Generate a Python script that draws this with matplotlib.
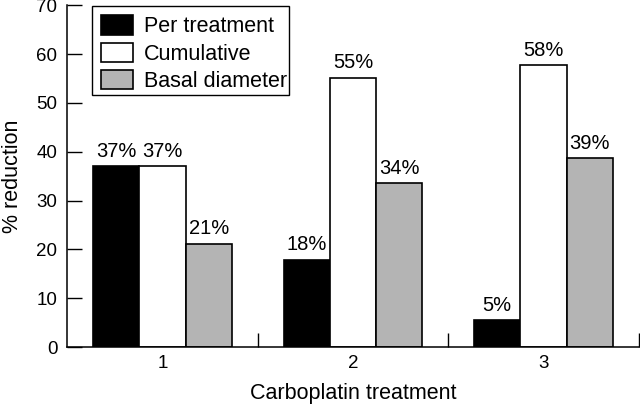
import numpy as np
import matplotlib
matplotlib.use("Agg")
import matplotlib.pyplot as plt
from matplotlib.patches import Rectangle

plt.rcParams['font.family'] = ['Liberation Sans', 'DejaVu Sans']

treatments = ["1", "2", "3"]
per_treatment = [37.0, 17.9, 5.5]
cumulative = [37.0, 55.1, 57.7]
basal_diameter = [21.2, 33.5, 38.7]
labels_per = ["37%", "18%", "5%"]
labels_cum = ["37%", "55%", "58%"]
labels_basal = ["21%", "34%", "39%"]

series = [
    ("Per treatment", per_treatment, labels_per, "black"),
    ("Cumulative", cumulative, labels_cum, "white"),
    ("Basal diameter", basal_diameter, labels_basal, "#b4b4b4"),
]

fs = 15.5
fig = plt.figure(figsize=(6.4, 4.04), dpi=100)
ax = fig.add_axes([0.105, 0.141, 0.893, 0.846])

x = np.arange(1, len(treatments) + 1)
w = 0.2425
for i, (name, vals, labs, col) in enumerate(series):
    bars = ax.bar(x + (i - 1) * w, vals, w, color=col, edgecolor="black",
                  linewidth=1.2, label=name)
    for b, lab in zip(bars, labs):
        ax.annotate(lab, (b.get_x() + b.get_width() / 2, b.get_height()),
                    xytext=(0, 4), textcoords="offset points",
                    ha="center", va="bottom", fontsize=14.5)

ax.set_xlim(0.5, 3.5)
ax.set_ylim(0, 70)
ax.set_yticks(range(0, 71, 10))
ax.set_xticks([1.5, 2.5, 3.5])
ax.set_xticklabels([])
ax.set_xticks(x, minor=True)
ax.set_xticklabels(treatments, minor=True)
ax.tick_params(axis="x", which="major", direction="in", length=10, width=1)
ax.tick_params(axis="x", which="minor", length=0, labelsize=13.5, pad=6)
ax.tick_params(axis="y", direction="in", length=11, width=1, labelsize=13.5, pad=7)

for s in ["top", "right"]:
    ax.spines[s].set_visible(False)
for s in ["left", "bottom"]:
    ax.spines[s].set_linewidth(1.1)

ax.set_xlabel("Carboplatin treatment", fontsize=fs, labelpad=8)
ax.set_ylabel("% reduction", fontsize=fs, labelpad=10)

# legend box drawn separately so its right margin stays tight like the original
ax.add_patch(Rectangle((0.0436, 0.737), 0.344, 0.260, transform=ax.transAxes,
                       facecolor="white", edgecolor="black", linewidth=1.0,
                       zorder=4.5, clip_on=False))
leg = ax.legend(loc="upper left", bbox_to_anchor=(0.0436, 0.997), fontsize=fs,
                frameon=False, handlelength=1.5, handleheight=1.0,
                handletextpad=0.5, labelspacing=0.25, borderpad=0.42,
                borderaxespad=0.0)

fig.savefig("out.png", dpi=100)
